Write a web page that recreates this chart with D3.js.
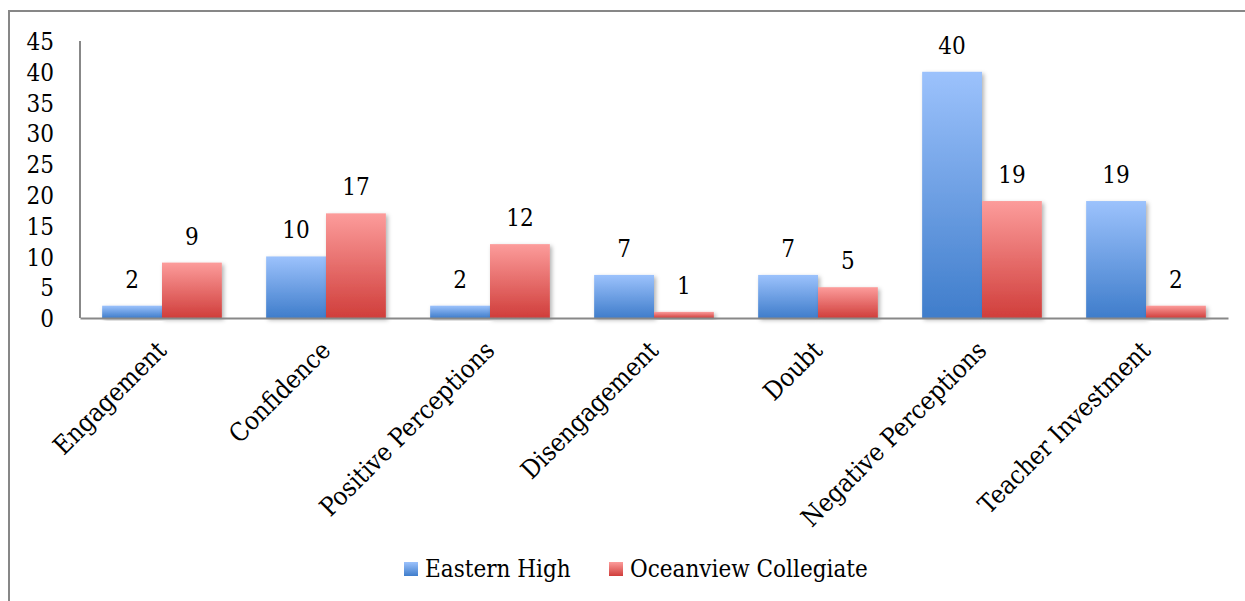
<!DOCTYPE html>
<html>
<head>
<meta charset="utf-8">
<script src="https://cdn.jsdelivr.net/npm/d3@7"></script>
<style>
  body { margin: 0; background: #fff; }
  svg { display: block; font-family: "DejaVu Serif Condensed", "DejaVu Serif", serif; font-stretch: condensed; }
</style>
</head>
<body>
<div id="chart-area"></div>
<script>
const categories = ["Engagement", "Confidence", "Positive Perceptions", "Disengagement",
    "Doubt", "Negative Perceptions", "Teacher Investment"];
const seriesNames = ["Eastern High", "Oceanview Collegiate"];
const easternHigh = [2, 10, 2, 7, 7, 40, 19];
const oceanview = [9, 17, 12, 1, 5, 19, 2];
const yTicks = [0, 5, 10, 15, 20, 25, 30, 35, 40, 45];

const W = 1245, H = 601;
const MARGIN = { LEFT: 80, TOP: 41, RIGHT: 17 };
const WIDTH = 1228 - MARGIN.LEFT;
const HEIGHT = 318 - MARGIN.TOP;
const FONT = "'DejaVu Serif Condensed', 'DejaVu Serif', serif";

const colors = {
    "Eastern High": ["#9cc2fc", "#3f7dcb"],
    "Oceanview Collegiate": ["#fc9c9b", "#d03e3b"]
};

const data = categories.map((c, i) => ({
    cat: c,
    vals: [
        { key: seriesNames[0], value: easternHigh[i] },
        { key: seriesNames[1], value: oceanview[i] }
    ]
}));

const svg = d3.select("#chart-area").append("svg")
    .attr("width", W)
    .attr("height", H);

// gradients + shadow
const defs = svg.append("defs");
seriesNames.forEach((s, i) => {
    const gr = defs.append("linearGradient")
        .attr("id", "grad" + i)
        .attr("x1", 0).attr("y1", 0).attr("x2", 0).attr("y2", 1);
    gr.append("stop").attr("offset", "0%").attr("stop-color", colors[s][0]);
    gr.append("stop").attr("offset", "100%").attr("stop-color", colors[s][1]);
});
const shadow = defs.append("filter").attr("id", "shadow")
    .attr("x", "-20%").attr("y", "-20%").attr("width", "140%").attr("height", "140%");
shadow.append("feDropShadow")
    .attr("dx", 2).attr("dy", 2).attr("stdDeviation", 2)
    .attr("flood-color", "#000").attr("flood-opacity", 0.3);

// outer frame
svg.append("rect")
    .attr("x", 9).attr("y", 11)
    .attr("width", 1400).attr("height", 800)
    .attr("fill", "none")
    .attr("stroke", "#878787")
    .attr("stroke-width", 2);

const g = svg.append("g")
    .attr("transform", `translate(${MARGIN.LEFT}, ${MARGIN.TOP})`);

const x0 = d3.scaleBand()
    .domain(categories)
    .range([0, WIDTH])
    .paddingInner(0.27)
    .paddingOuter(0.135);

const x1 = d3.scaleBand()
    .domain(seriesNames)
    .range([0, x0.bandwidth()]);

const y = d3.scaleLinear()
    .domain([0, 45])
    .range([HEIGHT, 0]);

// y axis labels
const yAxis = g.append("g")
    .call(d3.axisLeft(y).tickValues(yTicks).tickSize(0).tickPadding(26));
yAxis.select(".domain").remove();
yAxis.selectAll("text")
    .attr("font-size", "24px")
    .attr("font-family", FONT)
    .attr("fill", "#000")
    .attr("dy", "0.36em");

// bars
const groups = g.selectAll(".grp").data(data).enter().append("g")
    .attr("class", "grp")
    .attr("transform", d => `translate(${x0(d.cat)}, 0)`);

groups.selectAll("rect").data(d => d.vals).enter().append("rect")
    .attr("x", d => x1(d.key))
    .attr("y", d => y(d.value))
    .attr("width", x1.bandwidth())
    .attr("height", d => HEIGHT - y(d.value))
    .attr("fill", d => `url(#grad${seriesNames.indexOf(d.key)})`)
    .attr("filter", "url(#shadow)");

groups.selectAll(".lbl").data(d => d.vals).enter().append("text")
    .attr("class", "lbl")
    .attr("x", d => x1(d.key) + x1.bandwidth() / 2)
    .attr("y", d => y(d.value) - 18)
    .attr("text-anchor", "middle")
    .attr("font-size", "24px")
    .attr("fill", "#000")
    .text(d => d.value);

// axis lines
g.append("line")
    .attr("x1", 0).attr("x2", 0)
    .attr("y1", 0).attr("y2", HEIGHT)
    .attr("stroke", "#888").attr("stroke-width", 2);

const xAxis = g.append("g")
    .attr("transform", `translate(0, ${HEIGHT})`)
    .call(d3.axisBottom(x0).tickSize(0).tickPadding(0));
xAxis.select(".domain")
    .attr("stroke", "#888").attr("stroke-width", 2);
xAxis.selectAll("text")
    .attr("font-size", "25.5px")
    .attr("font-family", FONT)
    .attr("fill", "#000")
    .attr("text-anchor", "end")
    .attr("dy", "0")
    .attr("transform", "translate(6, 34) rotate(-45)");

// legend
const legend = svg.append("g")
    .attr("transform", "translate(404, 562)");
const items = [
    { name: seriesNames[0], x: 0 },
    { name: seriesNames[1], x: 205 }
];
items.forEach((it, i) => {
    legend.append("rect")
        .attr("x", it.x).attr("y", 0)
        .attr("width", 14).attr("height", 14)
        .attr("fill", `url(#grad${i})`);
    legend.append("text")
        .attr("x", it.x + 21)
        .attr("y", 15)
        .attr("font-size", "24px")
        .attr("fill", "#000")
        .text(it.name);
});
</script>
</body>
</html>
